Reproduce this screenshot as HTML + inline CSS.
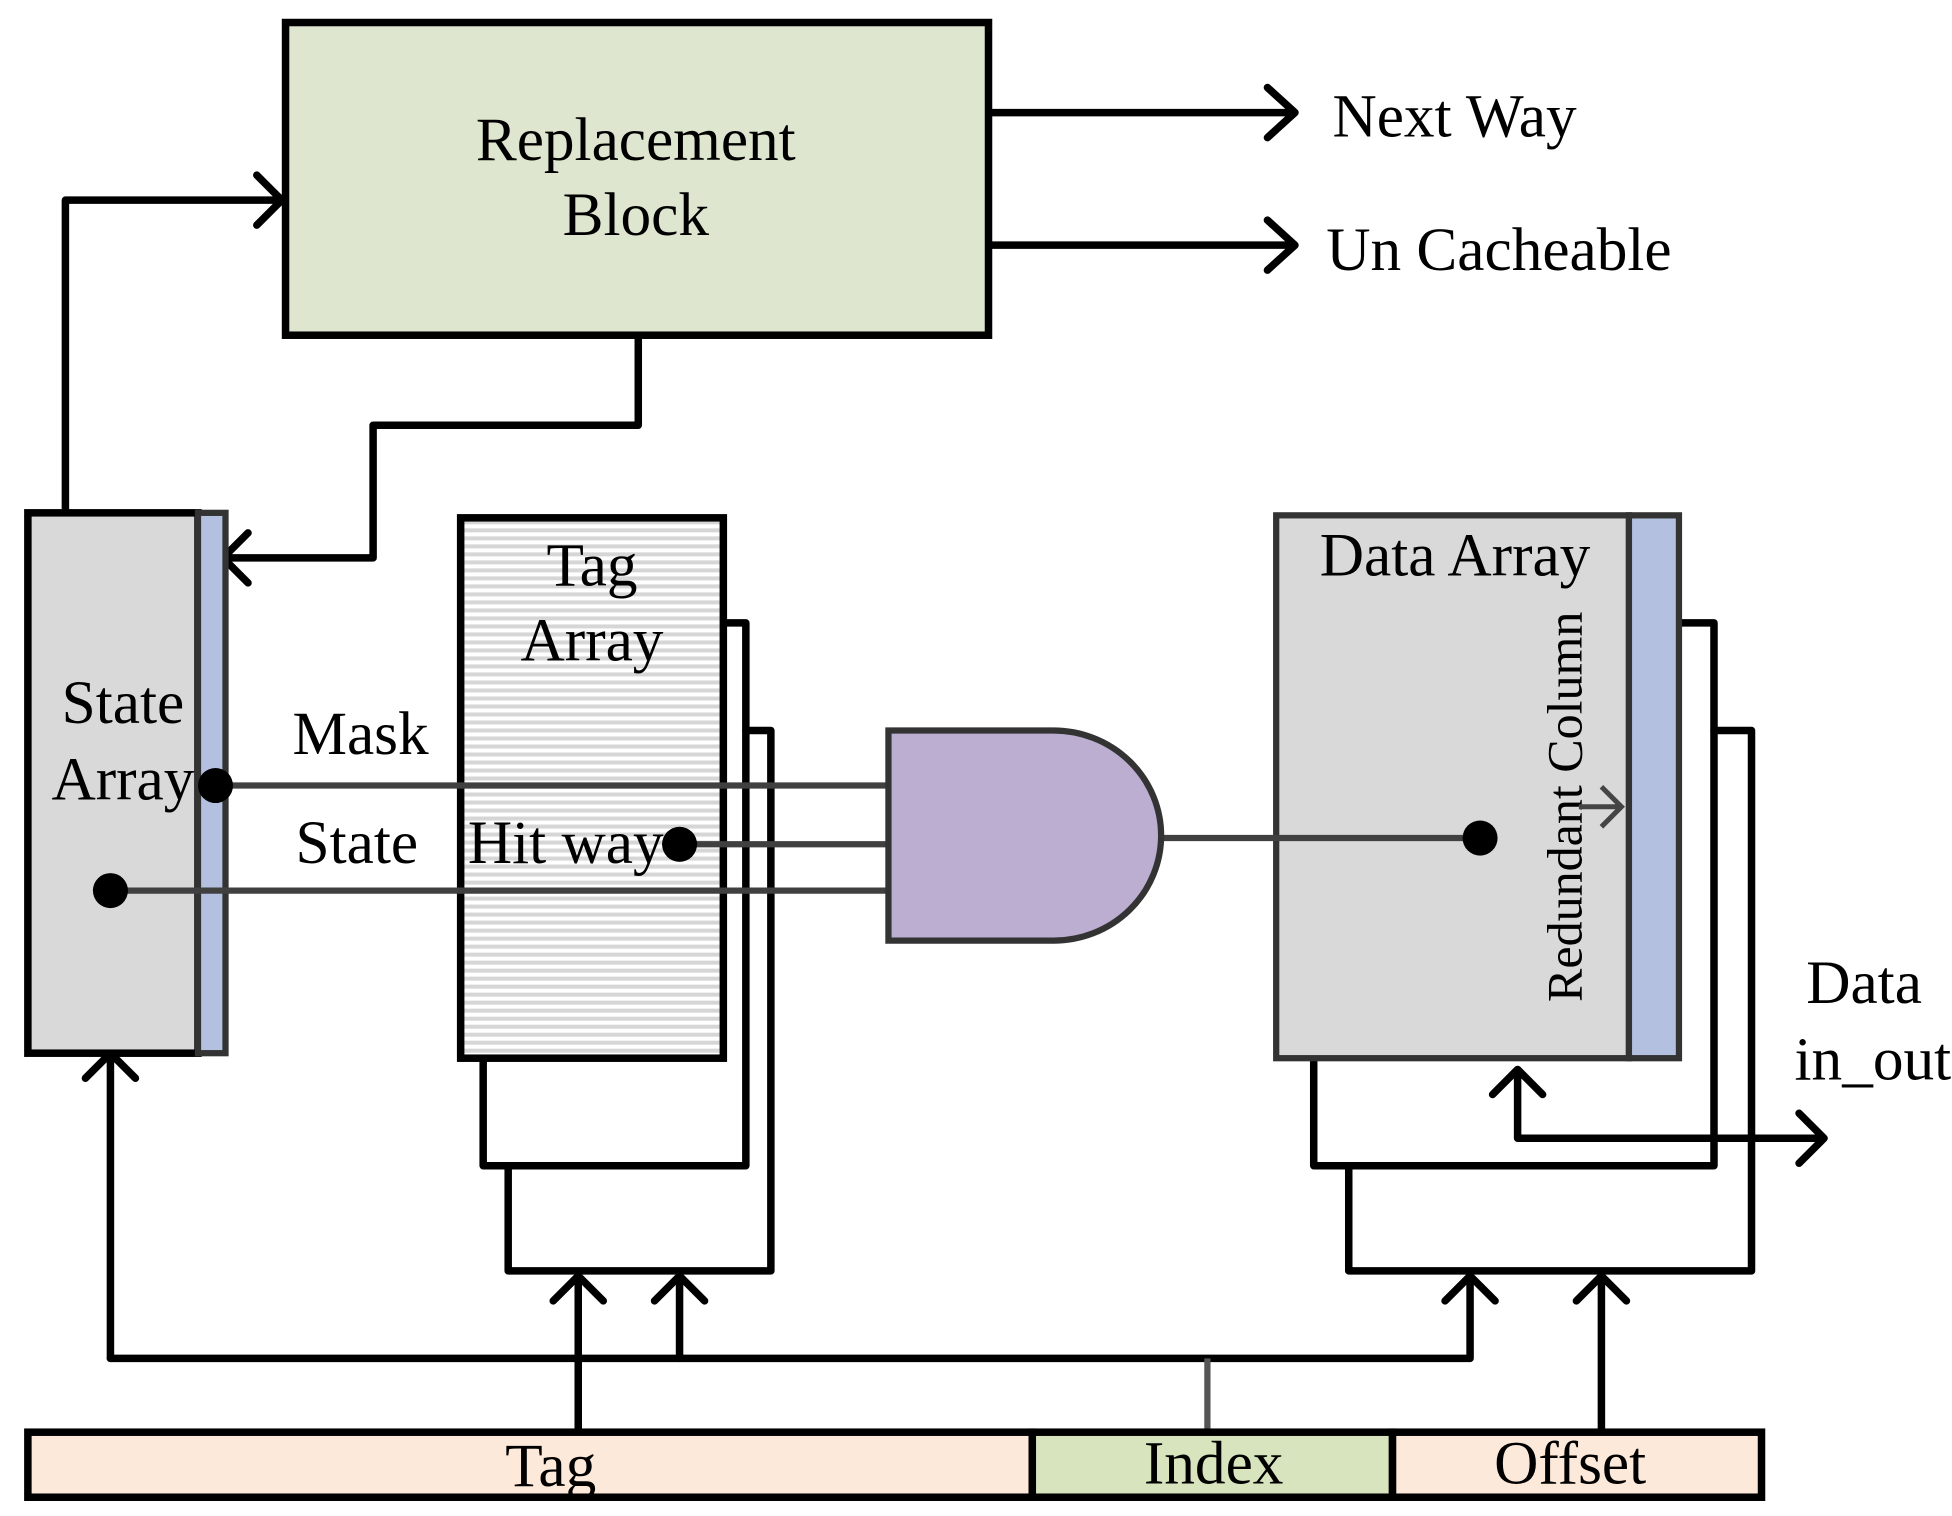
<!DOCTYPE html>
<html><head><meta charset="utf-8"><style>html,body{margin:0;padding:0;background:#fff}svg{display:block}</style></head>
<body>
<svg width="1952" height="1516" viewBox="0 0 1560 1212" xmlns="http://www.w3.org/2000/svg" font-family="Liberation Serif, serif" font-size="49">
<defs>
<pattern id="st" width="10" height="6.4" patternUnits="userSpaceOnUse"><rect width="10" height="6.4" fill="#fff"/><rect width="10" height="3.2" fill="#d6d6d6"/></pattern>
</defs>
<g fill="none" stroke="#000" stroke-width="6" stroke-linejoin="round" stroke-linecap="round">
<path d="M790 90H1035M1013 70L1035 90L1013 110"/>
<path d="M790 196H1035M1013 176L1035 196L1013 216"/>
<path d="M52 408V160H225M205 140L225 160L205 180"/>
<path d="M510 268V340H298V446H178M198 426L178 446L198 466"/>
<path d="M386 846V932H596V498H578"/>
<path d="M406 932V1016H616V584H596"/>
<path d="M1050 846V932H1370V498H1342"/>
<path d="M1078 932V1016H1400V584H1370"/>
<path d="M88 1086V842M68 862L88 842L108 862"/>
<path d="M88 1086H1175V1020M1155 1040L1175 1020L1195 1040"/>
<path d="M543 1086V1020M523 1040L543 1020L563 1040"/>
<path d="M462 1143V1020M442 1040L462 1020L482 1040"/>
<path d="M1280 1143V1020M1260 1040L1280 1020L1300 1040"/>
<path d="M1213 855V910H1458M1438 890L1458 910L1438 930M1193 875L1213 855L1233 875"/>
</g>
<line x1="965" y1="1143" x2="965" y2="1086" stroke="#555" stroke-width="5"/>
<rect x="228" y="18" width="562" height="250" fill="#dfe6cf" stroke="#000" stroke-width="6"/>
<text x="508" y="128" text-anchor="middle">Replacement</text>
<text x="508" y="188" text-anchor="middle">Block</text>
<text x="1065" y="109">Next Way</text>
<text x="1060" y="216">Un Cacheable</text>
<rect x="22" y="410" width="136" height="432" fill="#d9d9d9" stroke="#000" stroke-width="6"/>
<rect x="158" y="410" width="22" height="432" fill="#b4c0e0" stroke="#333" stroke-width="5"/>
<text x="98" y="578" text-anchor="middle">State</text>
<text x="98" y="639" text-anchor="middle">Array</text>
<rect x="368" y="414" width="210" height="432" fill="url(#st)" stroke="#000" stroke-width="6"/>
<text x="473" y="468" text-anchor="middle">Tag</text>
<text x="473" y="528" text-anchor="middle">Array</text>
<rect x="1020" y="412" width="282" height="434" fill="#d9d9d9" stroke="#333" stroke-width="5"/>
<rect x="1302" y="412" width="40" height="434" fill="#b4c0e0" stroke="#333" stroke-width="5"/>
<text x="1163" y="460" text-anchor="middle">Data Array</text>
<text transform="translate(1264 645) rotate(-90)" text-anchor="middle" font-size="40">Redundant Column</text>
<path d="M1262 645H1296M1280 629L1296 645L1280 661" fill="none" stroke="#444" stroke-width="4"/>
<g stroke="#404040" stroke-width="5">
<line x1="172" y1="628" x2="710" y2="628"/>
<line x1="88" y1="712" x2="710" y2="712"/>
<line x1="543" y1="675" x2="710" y2="675"/>
<line x1="928" y1="670" x2="1183" y2="670"/>
</g>
<g fill="#000"><circle cx="172" cy="628" r="14"/><circle cx="88" cy="712" r="14"/><circle cx="543" cy="675" r="14"/><circle cx="1183" cy="670" r="14"/></g>
<path d="M710 584H842A86 84 0 0 1 842 752H710Z" fill="#bcaed0" stroke="#333" stroke-width="5"/>
<text x="288" y="603" text-anchor="middle">Mask</text>
<text x="285" y="690" text-anchor="middle">State</text>
<text x="452" y="690" text-anchor="middle">Hit way</text>
<text x="1490" y="802" text-anchor="middle">Data</text>
<text x="1497" y="863" text-anchor="middle">in_out</text>
<rect x="22" y="1145" width="803" height="52" fill="#fde9d9" stroke="#000" stroke-width="6"/>
<rect x="825" y="1145" width="288" height="52" fill="#d7e4bd" stroke="#000" stroke-width="6"/>
<rect x="1113" y="1145" width="295" height="52" fill="#fde9d9" stroke="#000" stroke-width="6"/>
<text x="440" y="1188" text-anchor="middle">Tag</text>
<text x="970" y="1186" text-anchor="middle">Index</text>
<text x="1255" y="1186" text-anchor="middle">Offset</text>
</svg>
</body></html>
